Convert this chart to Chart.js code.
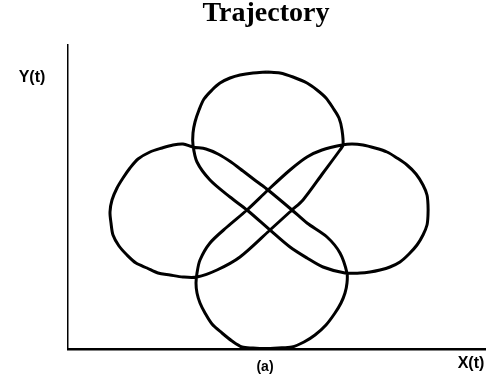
<!DOCTYPE html>
<html>
<head>
<meta charset="utf-8">
<title>Trajectory</title>
<script src="https://cdn.jsdelivr.net/npm/chart.js@4.4.0/dist/chart.umd.min.js"></script>
<style>
    body { margin: 0; background: #fff; }
    #wrap { width: 494px; height: 387px; }
</style>
</head>
<body>
<div id="wrap"><canvas id="trajectoryChart"></canvas></div>
<script>
// Trajectory samples, in plot units (X to the right, Y upward from the axes corner)
// Path: top loop -> diagonal -> right loop -> diagonal -> bottom loop -> diagonal -> left loop -> diagonal
const trajX = [
    199, 185, 172, 162, 152, 144, 136, 131, 127, 125, 125,
    129, 142, 162, 179, 202, 222, 239, 255, 277,
    292, 302, 312, 322, 332, 341, 349, 355, 359, 360, 360, 359, 355, 348, 339, 329, 319, 307, 295, 284, 274,
    254, 239, 222, 200, 179, 159, 142, 132, 129,
    128, 129, 132, 137, 144, 154, 164, 174, 185, 197, 210, 224, 236, 247, 258, 267, 273, 277, 279, 279,
    272, 259, 239, 224, 200, 188, 175, 163, 150, 138, 125,
    115, 105, 94, 82, 70, 62, 55, 49, 44, 42, 43, 45, 51, 59, 68, 79, 90, 102, 115, 129,
    149, 172, 202, 224, 235, 255, 272,
    275, 274, 271, 265, 258, 249, 239, 225, 212, 199
];
const trajY = [
    277, 276, 274, 271, 266, 259, 250, 239, 227, 216, 204,
    187, 169, 152, 139, 119, 102, 91, 82, 76,
    76, 77, 79, 82, 87, 95, 104, 114, 124, 134, 144, 154, 164, 175, 184, 191, 197, 201, 204, 205, 204,
    199, 192, 179, 159, 139, 122, 106, 89, 76,
    66, 56, 46, 36, 25, 16, 8, 2, 1, 0.5, 1, 2, 7, 14, 24, 36, 46, 56, 66, 76,
    96, 112, 126, 139, 159, 168, 178, 187, 195, 200, 202,
    205, 204, 201, 197, 190, 181, 171, 161, 149, 137, 126, 114, 103, 94, 86, 81, 76, 74, 72, 72,
    79, 92, 119, 139, 149, 176, 199,
    204, 219, 231, 241, 251, 259, 266, 272, 276, 277
];

// Axis extents
const xRange = [0, 417];
const yRange = [0, 304];

const chartTitle = 'Trajectory';
const xLabel = 'X(t)';
const yLabel = 'Y(t)';
const panelLabel = '(a)';

const points = trajX.map((x, i) => ({ x: x, y: trajY[i] }));

// Titles and axis names sit outside the plot box
const labelsPlugin = {
    id: 'labels',
    afterDraw(chart) {
        const ctx = chart.ctx;
        ctx.save();
        ctx.fillStyle = '#000';
        ctx.textAlign = 'center';
        ctx.textBaseline = 'alphabetic';

        ctx.font = 'bold 28px "Liberation Serif", "Times New Roman", serif';
        ctx.fillText(chartTitle, 266, 21);

        ctx.font = 'bold 16px "Liberation Sans", Arial, sans-serif';
        ctx.fillText(yLabel, 32, 82);
        ctx.fillText(xLabel, 471, 368);

        ctx.font = 'bold 14px "Liberation Sans", Arial, sans-serif';
        ctx.fillText(panelLabel, 265, 371);
        ctx.restore();
    }
};

const ctx = document.getElementById('trajectoryChart').getContext('2d');
new Chart(ctx, {
    type: 'scatter',
    data: {
        datasets: [{
            label: 'Trajectory',
            data: points,
            showLine: true,
            borderColor: '#000',
            borderWidth: 3,
            pointRadius: 0,
            tension: 0.3,
            clip: false
        }]
    },
    options: {
        responsive: true,
        maintainAspectRatio: false,
        animation: false,
        layout: {
            padding: { left: 68, right: 9, top: 45, bottom: 38 }
        },
        plugins: {
            legend: { display: false },
            tooltip: { enabled: false }
        },
        scales: {
            x: {
                type: 'linear',
                min: xRange[0],
                max: xRange[1],
                ticks: { display: false },
                grid: { display: false, drawTicks: false },
                border: { display: true, color: '#000', width: 2.5 }
            },
            y: {
                type: 'linear',
                min: yRange[0],
                max: yRange[1],
                ticks: { display: false },
                grid: { display: false, drawTicks: false },
                border: { display: true, color: '#000', width: 1.5 }
            }
        }
    },
    plugins: [labelsPlugin]
});
</script>
</body>
</html>
